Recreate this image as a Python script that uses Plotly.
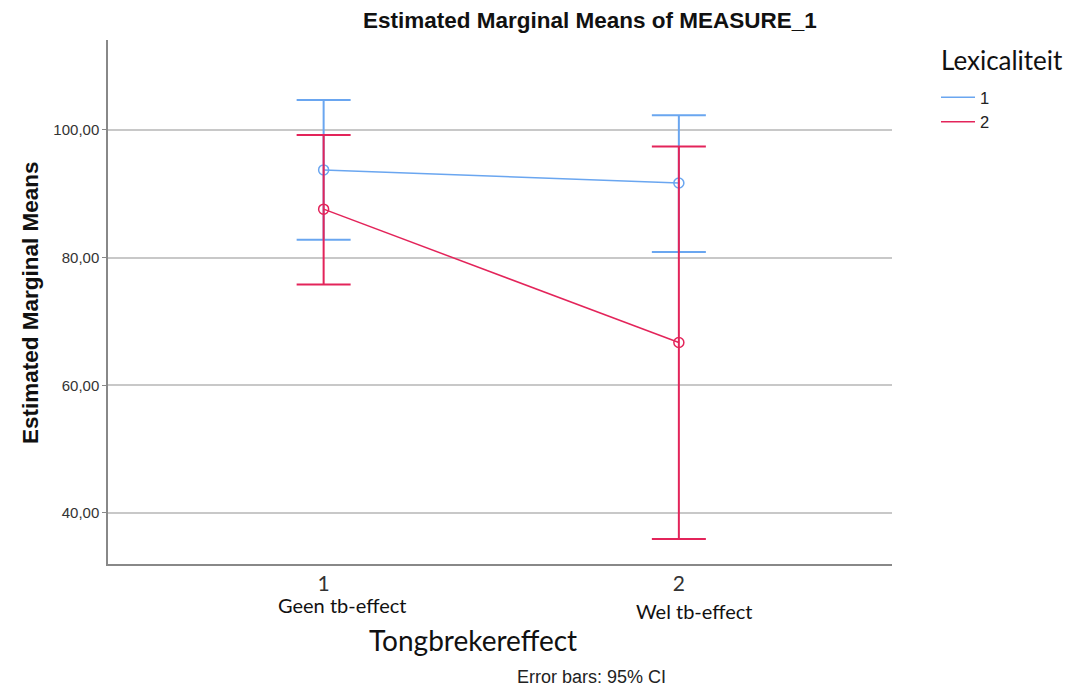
import plotly.graph_objects as go

categories = [1, 2]
tick_text = ["1", "2"]
category_labels = ["Geen tb-effect", "Wel tb-effect"]
series_names = ["1", "2"]
means_1 = [93.75, 91.7]
upper_1 = [104.7, 102.3]
lower_1 = [82.8, 80.9]
means_2 = [87.6, 66.7]
upper_2 = [99.2, 97.4]
lower_2 = [75.8, 35.9]

colors = ["#6aa6f0", "#e3245a"]

# page offset (body margin of 8px) is compensated in the margins
PL, PR, PT, PB = 108, 892, 40, 564  # plot area in page pixels
W, H = PR - PL, PB - PT

fig = go.Figure()
for name, m, up, lo, c in [(series_names[0], means_1, upper_1, lower_1, colors[0]),
                           (series_names[1], means_2, upper_2, lower_2, colors[1])]:
    fig.add_trace(go.Scatter(
        x=categories, y=m, name=name, mode="lines+markers", showlegend=False,
        line=dict(color=c, width=1.5),
        marker=dict(symbol="circle-open", size=10, color=c, line=dict(width=1.5)),
        error_y=dict(type="data", symmetric=False,
                     array=[u - v for u, v in zip(up, m)],
                     arrayminus=[v - l for v, l in zip(m, lo)],
                     color=c, thickness=2, width=27),
    ))
for name, c in zip(series_names, colors):
    fig.add_trace(go.Scatter(x=[None], y=[None], name=name, mode="lines",
                             line=dict(color=c, width=1.5), showlegend=True))

fig.update_layout(
    width=1071, height=688,
    margin=dict(l=PL - 8, r=1071 - PR + 8, t=PT - 8, b=688 - PB + 8),
    plot_bgcolor="white", paper_bgcolor="white",
    font=dict(family="Liberation Sans, Arial", color="#222"),
    showlegend=True,
    legend=dict(
        x=(936 - PL) / W, xanchor="left", y=1 - (80 - PT) / H, yanchor="top",
        font=dict(family="Liberation Sans, Arial", size=16.5, color="#222"),
        itemwidth=34, tracegroupgap=0, bgcolor="rgba(0,0,0,0)",
    ),
    xaxis=dict(
        range=[0.393, 2.60], tickvals=categories, ticktext=tick_text,
        showgrid=False, showline=True, linecolor="#888", linewidth=1.5,
        ticks="", tickfont=dict(family="Lato, sans-serif", size=21, color="#333"),
        zeroline=False,
    ),
    yaxis=dict(
        range=[32.0, 114.1], tickvals=[40, 60, 80, 100],
        ticktext=["40,00", "60,00", "80,00", "100,00"],
        showgrid=True, gridcolor="#c8c8c8", gridwidth=1.5,
        showline=True, linecolor="#888", linewidth=1.5,
        ticks="outside", ticklen=4, tickcolor="#888",
        tickfont=dict(family="Liberation Sans, Arial", size=15, color="#333"),
        zeroline=False,
    ),
)

def px(x):
    return (x - PL) / W

def py(y):
    return 1 - (y - PT) / H

annotations = [
    dict(text="<b>Estimated Marginal Means of MEASURE_1</b>", xref="paper", yref="paper",
         x=px(590), y=py(21), xanchor="center", yanchor="middle",
         showarrow=False, font=dict(family="Liberation Sans, Arial", size=22.5, color="#111")),
    dict(text="<b>Estimated Marginal Means</b>", xref="paper", yref="paper",
         x=px(30), y=py(303), xanchor="center", yanchor="middle", textangle=-90,
         showarrow=False, font=dict(family="Liberation Sans, Arial", size=22.5, color="#111")),
    dict(text="Lexicaliteit", xref="paper", yref="paper", x=px(939), y=py(60),
         xanchor="left", yanchor="middle",
         showarrow=False, font=dict(family="Lato, sans-serif", size=26, color="#111")),
    dict(text=category_labels[0], xref="x", yref="paper", x=categories[0], xshift=18,
         y=py(605), yanchor="middle", xanchor="center",
         showarrow=False, font=dict(family="Lato, sans-serif", size=20, color="#111")),
    dict(text=category_labels[1], xref="x", yref="paper", x=categories[1], xshift=16,
         y=py(611), yanchor="middle", xanchor="center",
         showarrow=False, font=dict(family="Lato, sans-serif", size=20, color="#111")),
    dict(text="Tongbrekereffect", xref="paper", yref="paper", x=px(473),
         y=py(640), yanchor="middle", xanchor="center",
         showarrow=False, font=dict(family="Lato, sans-serif", size=28, color="#111")),
    dict(text="Error bars: 95% CI", xref="paper", yref="paper", x=px(591),
         y=py(677), yanchor="middle", xanchor="center",
         showarrow=False, font=dict(family="Liberation Sans, Arial", size=18, color="#222")),
]
fig.update_layout(annotations=annotations)

fig.write_html("out.html")
